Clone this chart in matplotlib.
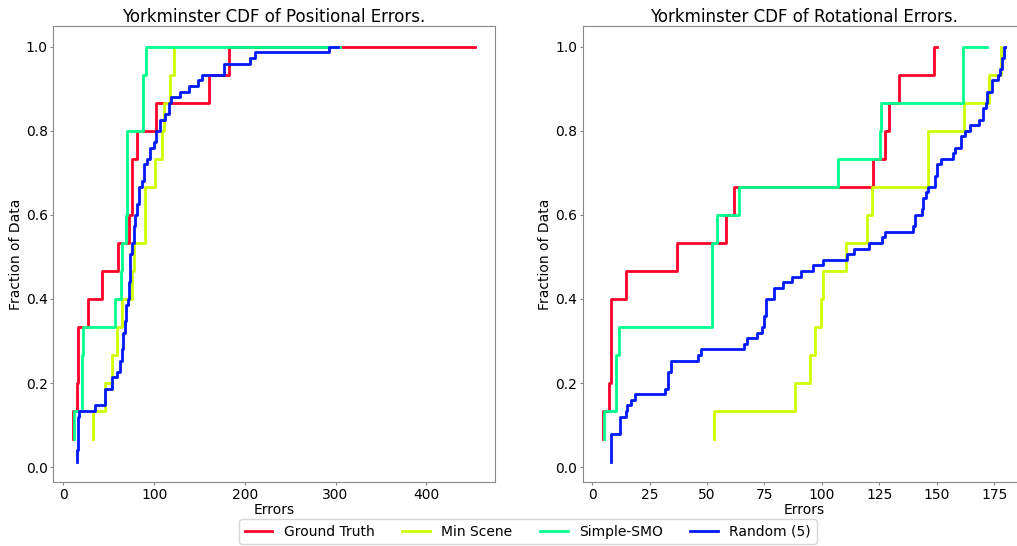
import numpy as np
import matplotlib
matplotlib.use("Agg")
import matplotlib.pyplot as plt

labels = ["Ground Truth", "Min Scene", "Simple-SMO", "Random (5)"]
titles = ["Yorkminster CDF of Positional Errors.", "Yorkminster CDF of Rotational Errors."]

# Positional errors
gt_pos = [10.9, 14.6, 15.7, 15.7, 27.0, 42.8, 59.6, 72.0, 75.7, 75.7, 81.2, 102.4, 160.8, 182.5, 453.7]
min_pos = [32.9, 45.3, 53.7, 59.2, 64.0, 75.2, 77.5, 89.5, 89.5, 101.3, 108.6, 110.4, 117.7, 122.2, 122.4]
smo_pos = [11.6, 20.8, 20.8, 22.0, 56.5, 63.6, 64.0, 69.0, 70.2, 70.2, 70.2, 87.8, 87.8, 91.4, 305.3]
rand_pos = [15.3, 15.3, 15.5, 15.7, 15.9, 16.1, 16.3, 16.5, 17.5, 34.7,
            45.3, 45.3, 45.3, 53.7, 53.7, 59.2, 61.8, 61.8, 64.7, 64.7,
            65.8, 65.8, 65.8, 68.3, 68.3, 69.4, 69.4, 69.4, 70.9, 72.0,
            72.0, 72.0, 73.8, 73.8, 73.8, 73.8, 73.8, 75.7, 75.7, 77.5,
            77.5, 77.5, 79.3, 79.3, 81.2, 81.2, 83.0, 83.0, 83.0, 86.7,
            88.4, 88.4, 88.4, 92.2, 95.0, 95.0, 99.4, 102.4, 102.4, 106.7,
            106.7, 112.2, 115.9, 115.9, 118.5, 128.7, 138.6, 148.8, 152.5, 177.0,
            177.0, 205.4, 211.7, 293.0, 302.4]

# Rotational errors
gt_rot = [4.6, 7.5, 8.1, 8.1, 8.1, 14.6, 36.8, 58.3, 61.8, 122.3, 127.4, 129.1, 133.5, 148.8, 150.0]
min_rot = [53.0, 88.3, 94.9, 97.0, 99.4, 100.6, 110.4, 119.4, 121.6, 146.2, 146.2, 161.7, 172.7, 177.7, 178.0]
smo_rot = [5.1, 10.4, 10.4, 11.9, 52.0, 52.0, 52.0, 54.5, 63.9, 107.1, 125.2, 125.7, 161.2, 161.2, 171.6]
rand_rot = [8.1, 8.1, 8.2, 8.2, 8.3, 12.2, 12.2, 12.2, 14.8, 15.4,
            17.1, 18.7, 31.9, 33.2, 33.2, 33.2, 34.2, 34.2, 46.2, 47.2,
            66.2, 67.4, 71.6, 73.8, 74.6, 74.6, 75.5, 75.5, 75.5, 79.2,
            79.2, 83.2, 87.1, 90.7, 96.0, 100.3, 110.7, 114.0, 120.6, 126.0,
            127.5, 139.7, 140.5, 140.5, 143.4, 144.1, 144.1, 145.1, 146.2, 149.3,
            149.3, 150.1, 150.1, 151.7, 156.8, 157.8, 160.7, 160.7, 162.2, 164.6,
            168.3, 170.1, 170.1, 171.3, 171.9, 171.9, 173.8, 173.8, 176.7, 177.5,
            178.5, 178.5, 179.2, 179.2, 179.6]

colors = plt.cm.gist_rainbow(np.arange(4) / 4)

fig = plt.figure(figsize=(10.17, 5.46), dpi=100)
ax1 = fig.add_axes([0.0524, 0.1167, 0.4343, 0.8357])
ax2 = fig.add_axes([0.5728, 0.1167, 0.4351, 0.8357])

fs = 10
for ax, series, title in [(ax1, [gt_pos, min_pos, smo_pos, rand_pos], titles[0]),
                          (ax2, [gt_rot, min_rot, smo_rot, rand_rot], titles[1])]:
    for vals, c, lab in zip(series, colors, labels):
        v = np.sort(np.asarray(vals))
        y = np.arange(1, len(v) + 1) / len(v)
        ax.plot(v, y, drawstyle="steps", color=c, lw=2, label=lab)
    ax.set_title(title, fontsize=12, pad=3)
    ax.set_xlabel("Errors", fontsize=fs, labelpad=1)
    ax.set_ylabel("Fraction of Data", fontsize=fs, labelpad=2)
    ax.tick_params(labelsize=fs, color="#888888", length=2.5, pad=1.5)
    for s in ax.spines.values():
        s.set_color("#888888")

handles, labs = ax1.get_legend_handles_labels()
fig.legend(handles, labs, loc="upper center", bbox_to_anchor=(0.519, 0.062),
           ncol=4, fontsize=fs, frameon=True)

fig.savefig("out.png", dpi=100)
